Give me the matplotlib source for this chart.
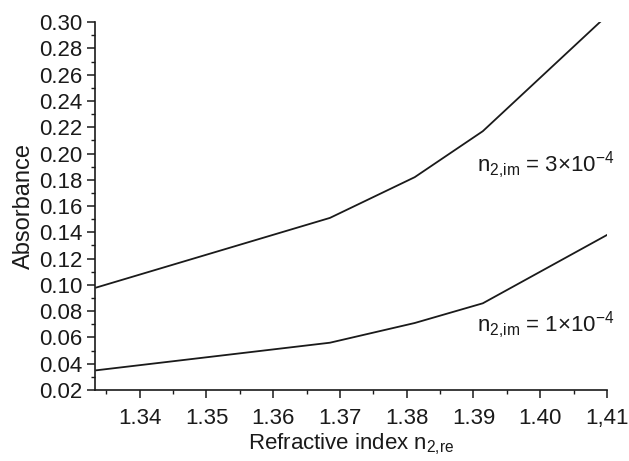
import matplotlib
matplotlib.use("Agg")
import matplotlib.pyplot as plt
from matplotlib.ticker import MultipleLocator, FuncFormatter

plt.rcParams["font.family"] = ["Liberation Sans", "DejaVu Sans"]
plt.rcParams["mathtext.fontset"] = "custom"
plt.rcParams["mathtext.rm"] = "Liberation Sans"

# refractive index (real part) of medium 2
n_re = [1.3335, 1.3685, 1.3812, 1.3914, 1.4100]
# absorbance for two imaginary parts
abs_3e4 = [0.098, 0.151, 0.182, 0.217, 0.305]
abs_1e4 = [0.035, 0.056, 0.071, 0.086, 0.138]

x_ticks = [1.34, 1.35, 1.36, 1.37, 1.38, 1.39, 1.40, 1.41]
x_labels = ["1.34", "1.35", "1.36", "1.37", "1.38", "1.39", "1.40", "1,41"]

fig = plt.figure(figsize=(6.29, 4.61), dpi=100)
ax = fig.add_axes([0.151, 0.154, 0.814, 0.798])

ax.plot(n_re, abs_3e4, color="#1a1a1a", lw=1.3)
ax.plot(n_re, abs_1e4, color="#1a1a1a", lw=1.3)

ax.set_xlim(1.3333, 1.41)
ax.set_ylim(0.02, 0.30)
ax.set_xticks(x_ticks)
ax.set_xticklabels(x_labels)
ax.xaxis.set_minor_locator(MultipleLocator(0.005))
ax.yaxis.set_major_locator(MultipleLocator(0.02))
ax.yaxis.set_minor_locator(MultipleLocator(0.01))
ax.yaxis.set_major_formatter(FuncFormatter(lambda v, p: f"{v:.2f}"))

ax.tick_params(which="major", length=6, width=1.1, labelsize=16, colors="#1a1a1a", pad=3)
ax.tick_params(which="minor", length=3, width=1.0, colors="#1a1a1a")
ax.tick_params(axis="x", pad=7)

for s in ["top", "right"]:
    ax.spines[s].set_visible(False)
for s in ["left", "bottom"]:
    ax.spines[s].set_linewidth(1.2)
    ax.spines[s].set_color("#1a1a1a")

ax.set_xlabel(r"Refractive index n$\mathregular{_{2{,}re}}$", fontsize=16, color="#1a1a1a", labelpad=2)
ax.set_ylabel("Absorbance", fontsize=17, color="#1a1a1a", labelpad=3)

ax.text(1.3905, 0.191, r"n$\mathregular{_{2{,}im}}$ = 3×10$\mathregular{^{-4}}$",
        fontsize=16, va="center", ha="left", color="#1a1a1a")
ax.text(1.3905, 0.069, r"n$\mathregular{_{2{,}im}}$ = 1×10$\mathregular{^{-4}}$",
        fontsize=16, va="center", ha="left", color="#1a1a1a")

fig.savefig("out.png", dpi=100)
